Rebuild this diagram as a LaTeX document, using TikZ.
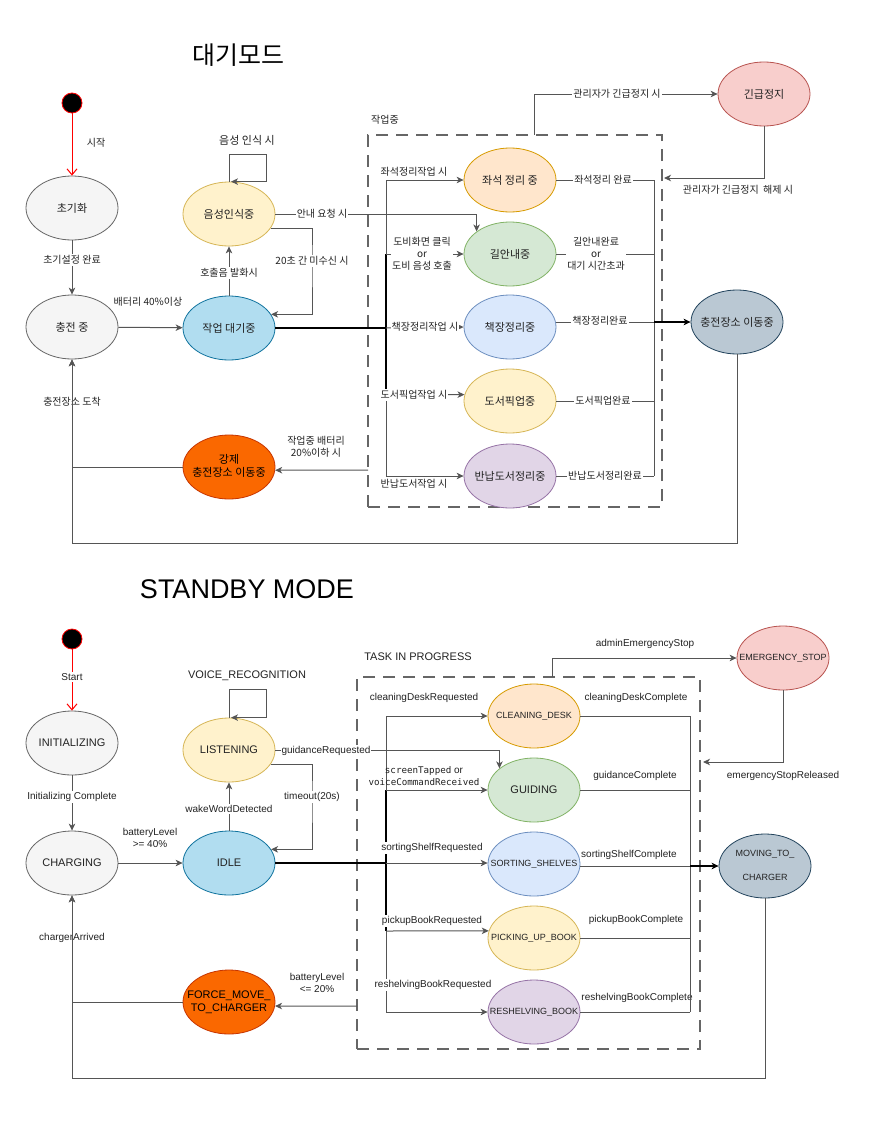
\documentclass[tikz,border=0pt]{standalone}
\usepackage{fontspec}
\setmainfont{Liberation Sans}
\newfontfamily\krf{Noto Sans CJK KR}
\newfontfamily\monof{DejaVu Sans Mono}
\usetikzlibrary{shapes.geometric,arrows.meta}
\newcommand{\fixw}[1]{\makebox[0pt]{#1}}
\newcommand{\fixww}[1]{\makebox[0pt]{\begin{tabular}{@{}c@{}}#1\end{tabular}}}
\definecolor{cGrayF}{HTML}{F5F5F5}\definecolor{cGrayD}{HTML}{666666}
\definecolor{cBlueF}{HTML}{B1DDF0}\definecolor{cBlueD}{HTML}{10739E}
\definecolor{cYelF}{HTML}{FFF2CC}\definecolor{cYelD}{HTML}{D6B656}
\definecolor{cOrF}{HTML}{FFE6CC}\definecolor{cOrD}{HTML}{D79B00}
\definecolor{cGrF}{HTML}{D5E8D4}\definecolor{cGrD}{HTML}{82B366}
\definecolor{cLbF}{HTML}{DAE8FC}\definecolor{cLbD}{HTML}{6C8EBF}
\definecolor{cPuF}{HTML}{E1D5E7}\definecolor{cPuD}{HTML}{9673A6}
\definecolor{cRdF}{HTML}{F8CECC}\definecolor{cRdD}{HTML}{B85450}
\definecolor{cSlF}{HTML}{BAC8D3}\definecolor{cSlD}{HTML}{23445D}
\definecolor{cFoF}{HTML}{FA6800}\definecolor{cFoD}{HTML}{C73500}
\definecolor{cEdge}{HTML}{555555}
\definecolor{cBox}{HTML}{666666}
\definecolor{cTxt}{HTML}{222222}
\tikzset{
  stt/.style={ellipse, draw, minimum width=92pt, minimum height=64pt, inner sep=0pt, align=center, line width=0.8pt, text=cTxt},
  krn/.style={font=\krf\fontsize{11}{13}\selectfont},
  enn/.style={font=\fontsize{11}{13}\selectfont},
  ens/.style={font=\fontsize{9}{11}\selectfont},
  sGray/.style={stt, fill=cGrayF, draw=cGrayD},
  sBlue/.style={stt, fill=cBlueF, draw=cBlueD},
  sYel/.style={stt, fill=cYelF, draw=cYelD},
  sOr/.style={stt, fill=cOrF, draw=cOrD},
  sGr/.style={stt, fill=cGrF, draw=cGrD},
  sLb/.style={stt, fill=cLbF, draw=cLbD},
  sPu/.style={stt, fill=cPuF, draw=cPuD},
  sRd/.style={stt, fill=cRdF, draw=cRdD},
  sSl/.style={stt, fill=cSlF, draw=cSlD},
  sFo/.style={stt, fill=cFoF, draw=cFoD, text=black},
  startdot/.style={circle, fill=black, draw=red, minimum size=20pt, inner sep=0pt, line width=0.8pt},
  conn/.style={draw=cEdge, line width=1pt, -{Stealth[length=7pt,width=6.5pt,inset=2pt]}},
  plainln/.style={draw=cEdge, line width=1pt},
  thickln/.style={draw=black, line width=2pt},
  thickconn/.style={draw=black, line width=2pt, -{Stealth[length=7pt,width=6.5pt,inset=2pt]}},
  startconn/.style={draw=red, line width=1pt, -{Straight Barb[length=6pt,width=10pt]}},
  lk/.style={font=\krf\fontsize{10}{12}\selectfont, fill=white, inner sep=1pt, align=center, text=cTxt},
  le/.style={font=\fontsize{10}{12}\selectfont, fill=white, inner sep=1pt, align=center, text=cTxt},
  nolbl/.style={fill=none},
  taskbox/.style={draw=cBox, line width=1.5pt, dash pattern=on 12pt off 8pt, inner sep=0pt},
  titlek/.style={font=\krf\fontsize{25}{30}\selectfont},
  titlee/.style={font=\fontsize{27}{32}\selectfont},
}
\begin{document}
\begin{tikzpicture}[x=1pt,y=-1pt]
\fill[white] (0,0) rectangle (873,1124);
\useasboundingbox (0,0) rectangle (873,1124);

%%%%%%%%%%%%%%%% TOP: Korean %%%%%%%%%%%%%%%%
\node[titlek] (title1) at (238,55) {대기모드};
\node[taskbox, minimum width=294pt, minimum height=372pt] (box1) at (515,321) {};
\node[font=\krf\fontsize{10}{12}\selectfont, text=cTxt] (box1lbl) at (385,120) {작업중};

\node[startdot] (s1) at (72,103) {};
\node[sGray,krn] (init1) at (72,208) {\fixw{초기화}};
\node[sGray,krn] (chg1) at (72,327) {\fixw{충전 중}};
\node[sBlue,krn] (idle1) at (229,328) {\fixw{작업 대기중}};
\node[sYel,krn] (lis1) at (229,214) {\fixw{음성인식중}};
\node[sFo,krn] (force1) at (229,467) {\fixww{강제\\충전장소 이동중}};
\node[sOr,krn] (t1a) at (510,180) {\fixw{좌석 정리 중}};
\node[sGr,krn] (t1b) at (510,254) {\fixw{길안내중}};
\node[sLb,krn] (t1c) at (510,327) {\fixw{책장정리중}};
\node[sYel,krn] (t1d) at (510,401) {\fixw{도서픽업중}};
\node[sPu,krn] (t1e) at (510,476) {\fixw{반납도서정리중}};
\node[sSl,krn] (mv1) at (737,322) {\fixw{충전장소 이동중}};
\node[sRd,krn] (em1) at (764,94) {\fixw{긴급정지}};

\coordinate (b1a) at (386,180);
\coordinate (b1b) at (386,254);
\coordinate (b1c) at (386,328);
\coordinate (b1d) at (386,395);
\coordinate (b1e) at (386,476);
\coordinate (r1a) at (654,180);
\coordinate (r1b) at (654,254);
\coordinate (r1c) at (654,322);
\coordinate (r1d) at (654,401);
\coordinate (r1e) at (654,476);
\coordinate (e1s) at (534,135);
\coordinate (e1t) at (664,178);
\coordinate (f1s) at (368,470);

\draw[startconn] (s1) -- (init1) node[lk,nolbl,at={(96,143)}] {시작};
\draw[conn] (init1) -- (chg1) node[lk,at={(72,260)}] {초기설정 완료};
\draw[conn] (chg1) -- (idle1) node[lk,nolbl,at={(148,302)}] {배터리 40\%이상};
\draw[conn] (idle1) -- (lis1) node[lk,at={(229,273)}] {호출음 발화시};
\draw[conn] (lis1.north) -- ++(0,-27) -- ++(37,0) -- ++(0,27) -- ([xshift=2pt]lis1.north);
\node[font=\krf\fontsize{11}{13}\selectfont, text=cTxt] (loop1lbl) at (247,140) {음성 인식 시};
\draw[conn] (lis1.east) -| (t1b.146) node[lk,at={(322,214)}] {안내 요청 시};
\draw[conn] (lis1.-19) -| (312,261) node[lk] {20초 간 미수신 시} |- (idle1.18);

% bus
\draw[plainln] (b1a) -- (b1e);
\draw[thickln] (b1b) -- (b1d);
\draw[thickln] (idle1.east) -- (b1c);
\draw[conn] (b1a) -- (t1a.west) node[lk,at={(414,172)}] {좌석정리작업 시};
\draw[conn] (b1b) -- (t1b.west) node[lk,at={(422,254)}] {도비화면 클릭\\or\\도비 음성 호출};
\draw[conn] (b1c) -- (t1c.west) node[lk,at={(425,327)}] {책장정리작업 시};
\draw[conn] (b1d) -- (t1d.172) node[lk,at={(414,395)}] {도서픽업작업 시};
\draw[conn] (b1e) -- (t1e.west) node[lk,at={(414,484)}] {반납도서작업 시};

\draw[plainln] (t1a.east) -- (r1a) node[lk,at={(603,180)}] {좌석정리 완료};
\draw[plainln] (t1b.east) -- (r1b) node[lk,at={(596,254)}] {길안내완료\\or\\대기 시간초과};
\draw[plainln] (t1c.east |- r1c) -- (r1c) node[lk,at={(600,321)}] {책장정리완료};
\draw[plainln] (t1d.east) -- (r1d) node[lk,at={(603,401)}] {도서픽업완료};
\draw[plainln] (t1e.east) -- (r1e) node[lk,at={(605,476)}] {반납도서정리완료};
\draw[plainln] (r1a) -- (r1e);
\draw[thickconn] (r1c) -- (mv1.west);

\draw[conn] (e1s) |- (em1.west) node[lk,at={(617,94)}] {관리자가 긴급정지 시};
\draw[conn] (em1.south) |- (e1t) node[lk,nolbl,at={(738,190)}] {관리자가 긴급정지~ 해제 시};

\draw[conn] (f1s) -- (force1.-4) node[lk,nolbl,at={(316,447)}] {작업중 배터리\\20\%이하 시};
\draw[conn] (force1.west) -| (chg1.south) node[lk,at={(72,402)}] {충전장소 도착};
\draw[conn] (mv1.south) |- (72,543) -- (chg1.south);

%%%%%%%%%%%%%%%% BOTTOM: English %%%%%%%%%%%%%%%%
\node[titlee] (title2) at (247,589) {STANDBY MODE};
\node[taskbox, minimum width=343pt, minimum height=372pt] (box2) at (528.5,863) {};
\node[font=\fontsize{11}{13}\selectfont, text=cTxt] (box2lbl) at (418,657) {TASK IN PROGRESS};

\node[startdot] (s2) at (72,639) {};
\node[sGray,enn] (init2) at (72,743) {\fixw{INITIALIZING}};
\node[sGray,enn] (chg2) at (72,863) {\fixw{CHARGING}};
\node[sBlue,enn] (idle2) at (229,863) {\fixw{IDLE}};
\node[sYel,enn] (lis2) at (229,750) {\fixw{LISTENING}};
\node[sFo,enn] (force2) at (229,1002) {\fixww{FORCE\_MOVE\_\\TO\_CHARGER}};
\node[sOr,ens] (t2a) at (534,716) {\fixw{CLEANING\_DESK}};
\node[sGr,enn] (t2b) at (534,790) {\fixw{GUIDING}};
\node[sLb,ens] (t2c) at (534,864) {\fixw{SORTING\_SHELVES}};
\node[sYel,ens] (t2d) at (534,938) {\fixw{PICKING\_UP\_BOOK}};
\node[sPu,ens] (t2e) at (534,1012) {\fixw{RESHELVING\_BOOK}};
\node[sSl,font=\fontsize{9}{12}\selectfont] (mv2) at (765,866) {\fixww{MOVING\_TO\_\\ \\CHARGER}};
\node[sRd,ens] (em2) at (783,658) {\fixw{EMERGENCY\_STOP}};

\coordinate (b2a) at (386,716);
\coordinate (b2b) at (386,790);
\coordinate (b2c) at (386,863);
\coordinate (b2d) at (386,931);
\coordinate (b2e) at (386,1012);
\coordinate (r2a) at (690,716);
\coordinate (r2b) at (690,790);
\coordinate (r2c) at (690,866);
\coordinate (r2d) at (690,938);
\coordinate (r2e) at (690,1012);
\coordinate (e2s) at (552,677);
\coordinate (e2t) at (703,762);
\coordinate (f2s) at (357,1006);

\draw[startconn] (s2) -- (init2) node[le,at={(72,677)}] {Start};
\draw[conn] (init2) -- (chg2) node[le,at={(72,797)}] {Initializing Complete};
\draw[conn] (chg2) -- (idle2) node[le,nolbl,at={(150,838)}] {batteryLevel\\>= 40\%};
\draw[conn] (idle2) -- (lis2) node[le,at={(229,809)}] {wakeWordDetected};
\draw[conn] (lis2.north) -- ++(0,-28) -- ++(37,0) -- ++(0,28) -- ([xshift=2pt]lis2.north);
\node[font=\fontsize{11}{13}\selectfont, text=cTxt] (loop2lbl) at (247,676) {VOICE\_RECOGNITION};
\draw[conn] (lis2.east) -| (t2b.148) node[le,at={(326,751)}] {guidanceRequested};
\draw[conn] (lis2.-19) -| (312,797) node[le] {timeout(20s)} |- (idle2.18);

\draw[plainln] (b2a) -- (b2e);
\draw[thickln] (b2b) -- (b2d);
\draw[thickln] (idle2.east) -- (b2c);
\draw[conn] (b2a) -- (t2a.west) node[le,nolbl,at={(424,698)}] {cleaningDeskRequested};
\draw[conn] (b2b) -- (t2b.west) node[le,nolbl,at={(424,776)}] {{\monof\fontsize{9.2}{13}\selectfont screenTapped} or\\{\monof\fontsize{9.2}{13}\selectfont voiceCommandReceived}};
\draw[conn] (b2c) -- (t2c.west |- b2c) node[le,at={(432,848)}] {sortingShelfRequested};
\draw[conn] (b2d) -- (t2d.171) node[le,at={(432,921)}] {pickupBookRequested};
\draw[conn] (b2e) -- (t2e.west) node[le,at={(433,985)}] {reshelvingBookRequested};

\draw[plainln] (t2a.east) -- (r2a) node[le,nolbl,at={(636,698)}] {cleaningDeskComplete};
\draw[plainln] (t2b.east) -- (r2b) node[le,nolbl,at={(635,776)}] {guidanceComplete};
\draw[plainln] (t2c.east |- r2c) -- (r2c) node[le,at={(629,855)}] {sortingShelfComplete};
\draw[plainln] (t2d.east) -- (r2d) node[le,nolbl,at={(636,920)}] {pickupBookComplete};
\draw[plainln] (t2e.east) -- (r2e) node[le,at={(637,998)}] {reshelvingBookComplete};
\draw[plainln] (r2a) -- (r2e);
\draw[thickconn] (r2c) -- (mv2.west);

\draw[conn] (e2s) |- (em2.west) node[le,nolbl,at={(645,644)}] {adminEmergencyStop};
\draw[conn] (em2.south) |- (e2t) node[le,nolbl,at={(783,776)}] {emergencyStopReleased};

\draw[conn] (f2s) -- (force2.-5) node[le,nolbl,at={(317,983)}] {batteryLevel\\<= 20\%};
\draw[conn] (force2.west) -| (chg2.south) node[le,at={(72,938)}] {chargerArrived};
\draw[conn] (mv2.south) |- (72,1078) -- (chg2.south);
\end{tikzpicture}
\end{document}
